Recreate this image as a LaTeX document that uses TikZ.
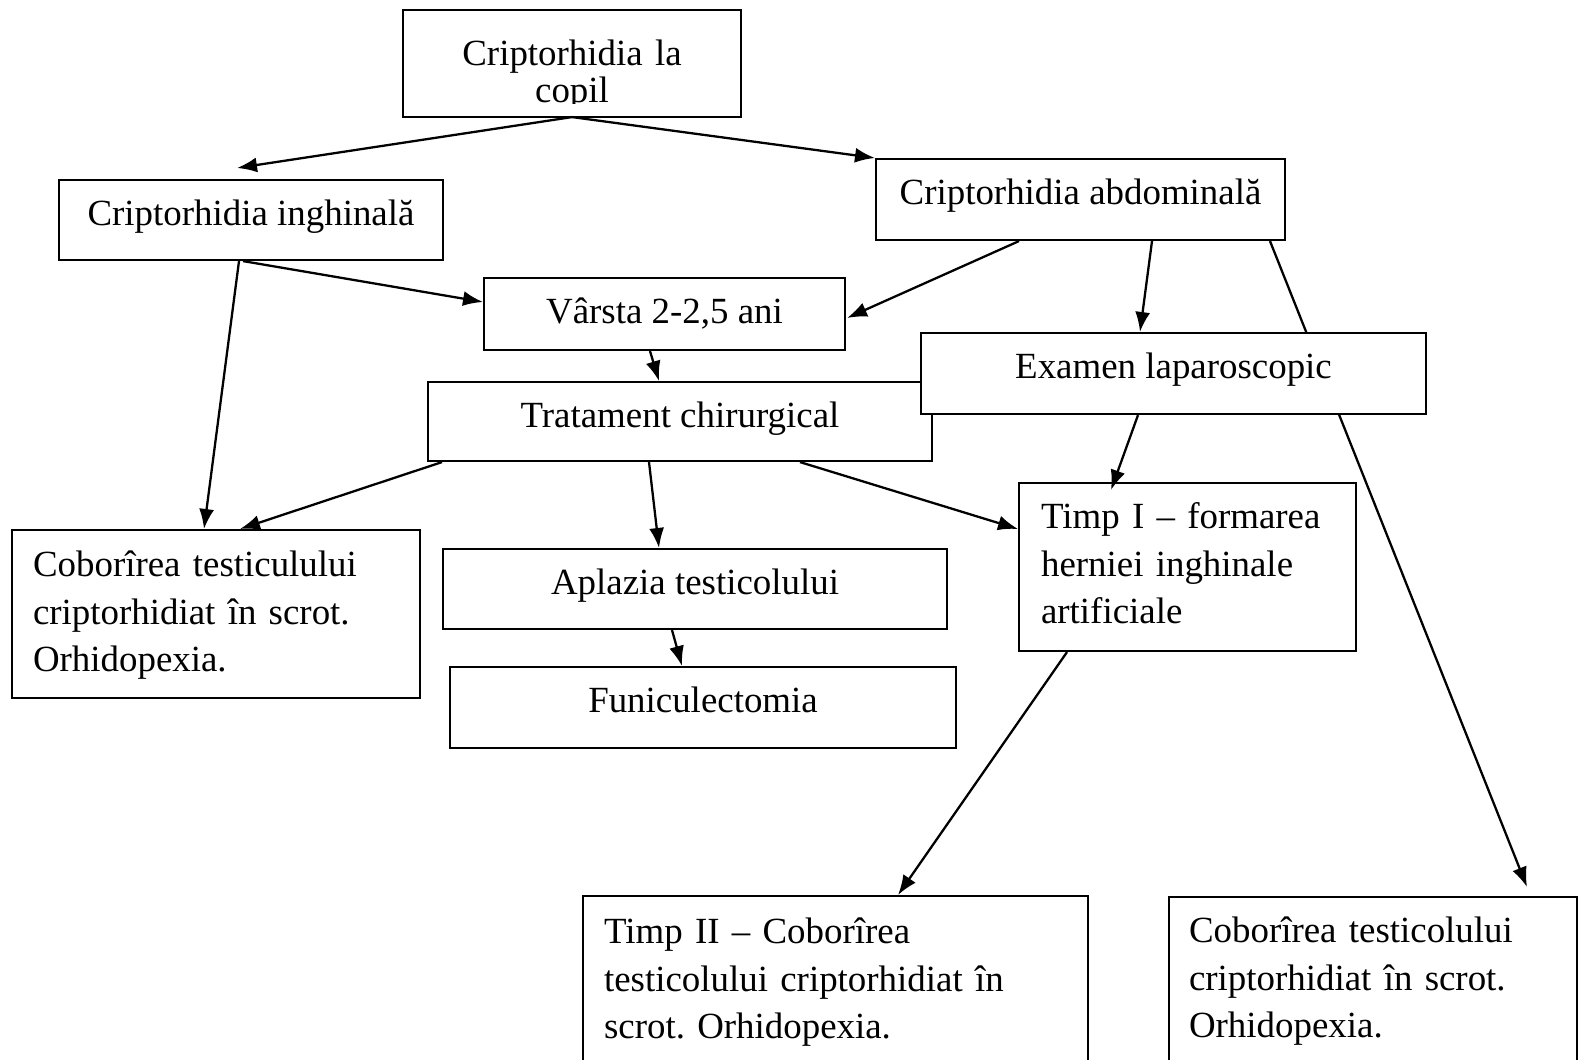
\documentclass[tikz,border=0pt]{standalone}
\usepackage{fontspec}
\setmainfont{Liberation Serif}
\usetikzlibrary{arrows.meta,calc,backgrounds}
\frenchspacing

\tikzset{
  box/.style={draw, fill=white, line width=1.2pt, inner sep=0pt, anchor=north west,
    font=\fontsize{21}{27.3}\selectfont, text height=0.9cm},
  leftbox/.style={box, align=left, inner xsep=0.42cm},
  link/.style={-{Latex[length=0.4cm,width=0.3cm]}, line width=1.3pt},
}

\begin{document}
\begin{tikzpicture}[x=0.02cm, y=-0.02cm]
  \clip (0,0) rectangle (1582,1060);

  % top box, its second line is cut by the frame
  \begin{scope}
    \clip (0,0) rectangle (1582,104);
    \node[box, draw=none, align=center, text width=6.72cm, text height=1.08cm, text depth=1.02cm,
      font=\fontsize{21}{21.6}\selectfont] (cop) at (403,10) {Criptorhidia la\\copil};
  \end{scope}
  \draw[line width=1.2pt] (cop.north west) rectangle (cop.south east);

  \node[box, minimum width=7.68cm, text depth=0.70cm] (ingh) at (58,179) {Criptorhidia inghinală};
  \node[box, minimum width=8.18cm, text depth=0.72cm] (abd) at (875,158) {Criptorhidia abdominală};
  \node[box, minimum width=7.22cm, text depth=0.54cm] (varsta) at (483,277) {Vârsta 2-2,5 ani};
  \node[box, minimum width=10.08cm, text depth=0.68cm] (trat) at (427,381) {Tratament chirurgical};
  \node[box, minimum width=10.10cm, text depth=0.72cm] (exam) at (920,332) {Examen laparoscopic};

  \node[leftbox, text width=7.32cm, text height=0.92cm, text depth=2.44cm] (cobL) at (11,529)
    {Coborîrea testiculului\\criptorhidiat în scrot.\\Orhidopexia.};
  \node[box, minimum width=10.08cm, text depth=0.70cm] (apl) at (442,548) {Aplazia testicolului};
  \node[box, minimum width=10.12cm, text depth=0.72cm] (fun) at (449,666) {Funiculectomia};
  \node[leftbox, inner xsep=0.44cm, text width=5.86cm, text depth=2.46cm] (timp1) at (1018,482)
    {Timp I – formarea\\herniei inghinale\\artificiale};
  \node[leftbox, inner xsep=0.42cm, text width=9.26cm, text height=0.94cm, text depth=2.8cm] (timp2) at (582,895)
    {Timp II – Coborîrea\\testicolului criptorhidiat în\\scrot. Orhidopexia.};
  \node[leftbox, inner xsep=0.40cm, text width=7.36cm, text depth=2.8cm] (cobR) at (1168,896)
    {Coborîrea testicolului\\criptorhidiat în scrot.\\Orhidopexia.};

  % connectors
  \draw[link] (cop.south) -- ($(ingh.north west)+(179,-11)$);
  \draw[link] (cop.south) -- (abd.north west);
  \draw[link] ($(ingh.south west)+(181,0)$) -- ($(cobL.north west)+(193,0)$);
  \draw[link] ($(ingh.south west)+(185,0)$) -- ($(varsta.north west)+(0,25)$);
  \draw[link] ($(abd.south west)+(144,0)$) -- ($(varsta.north east)+(1,41)$);
  \draw[link] ($(abd.south west)+(277,0)$) -- ($(exam.north west)+(220,0)$);
  \begin{scope}[on background layer]
    \draw[link] ($(abd.south west)+(395,0)$) -- ($(cobR.north west)+(359,-9)$);
  \end{scope}
  \draw[link] ($(varsta.south west)+(167,0)$) -- ($(trat.north west)+(232,0)$);
  \draw[link] ($(exam.south west)+(218,0)$) -- ($(timp1.north west)+(93,8)$);
  \draw[link] ($(trat.south west)+(15,0)$) -- ($(cobL.north west)+(229,0)$);
  \draw[link] ($(trat.south west)+(222,0)$) -- ($(apl.north west)+(217,0)$);
  \draw[link] ($(trat.south west)+(373,0)$) -- ($(timp1.north west)+(0,47)$);
  \draw[link] ($(apl.south west)+(230,0)$) -- ($(fun.north west)+(233,0)$);
  \draw[link] ($(timp1.south west)+(49,0)$) -- ($(timp2.north west)+(316,0)$);
\end{tikzpicture}
\end{document}
